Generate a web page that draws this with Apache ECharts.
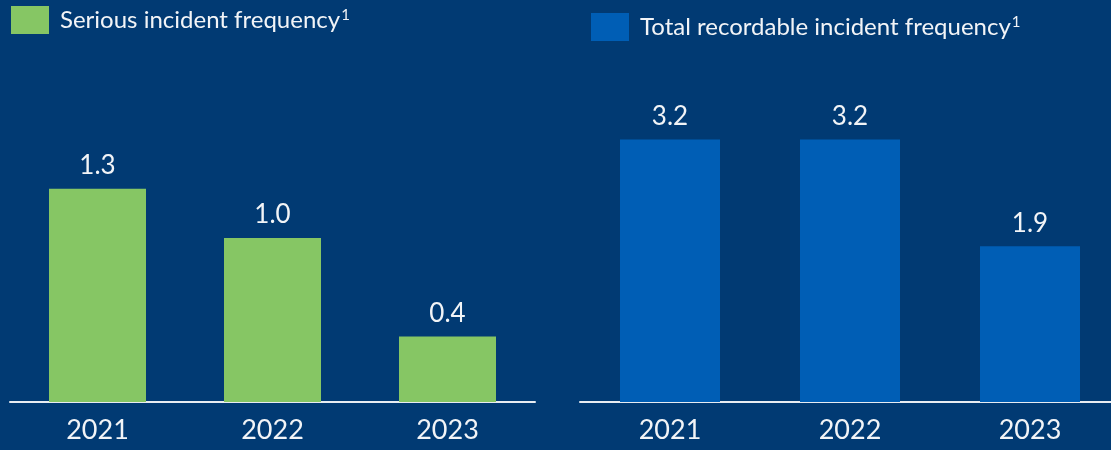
<!DOCTYPE html>
<html>
<head>
<meta charset="utf-8">
<script src="https://cdn.jsdelivr.net/npm/echarts@6/dist/echarts.min.js"></script>
<style>
html,body{margin:0;padding:0;background:#013a73;}
#c{width:1111px;height:450px;}
</style>
</head>
<body>
<div id="c"></div>
<script>
const categories = ['2021', '2022', '2023'];
const seriousValues = [1.3, 1.0, 0.4];
const totalValues = [3.2, 3.2, 1.9];
const seriousName = 'Serious incident frequency';
const totalName = 'Total recordable incident frequency';

const FONT = 'Lato, "Open Sans", sans-serif';
const TXT = '#f2f4f7';

const chart = echarts.init(document.getElementById('c'));
const legendRich = {
  a: { color: TXT, fontSize: 24, fontFamily: FONT, padding: [0, 0, 0, 6] },
  s: { color: TXT, fontSize: 15, fontFamily: FONT, verticalAlign: 'top', padding: [0, 0, 10, 1] }
};
function xAx(gi) {
  return {
    type: 'category', gridIndex: gi, data: categories,
    axisLine: { lineStyle: { color: '#e8ecf2', width: 2 } },
    axisTick: { show: false },
    axisLabel: { color: TXT, fontSize: 27, fontFamily: FONT, margin: 15 }
  };
}
function yAx(gi, max) {
  return {
    type: 'value', gridIndex: gi, min: 0, max: max, show: false,
    splitLine: { show: false }
  };
}
const labelCfg = { show: true, position: 'top', distance: 10, color: TXT, fontSize: 26, fontFamily: FONT, formatter: p => p.value.toFixed(1) };

chart.setOption({
  backgroundColor: '#013a73',
  animation: false,
  legend: [
    { data: [seriousName], left: 11, top: 6, padding: 0, itemWidth: 38, itemHeight: 28, icon: 'rect',
      formatter: n => '{a|' + n + '}{s|1}', textStyle: { rich: legendRich } },
    { data: [totalName], left: 591, top: 13, padding: 0, itemWidth: 38, itemHeight: 28, icon: 'rect',
      formatter: n => '{a|' + n + '}{s|1}', textStyle: { rich: legendRich } }
  ],
  grid: [
    { left: 10, width: 525, top: 74, height: 328, outerBoundsMode: 'none' },
    { left: 580, width: 540, top: 74, height: 328, outerBoundsMode: 'none' }
  ],
  xAxis: [xAx(0), xAx(1)],
  yAxis: [yAx(0, 2), yAx(1, 4)],
  series: [
    { name: seriousName, type: 'bar', xAxisIndex: 0, yAxisIndex: 0, data: seriousValues,
      barWidth: 97, itemStyle: { color: '#86c664' }, label: labelCfg },
    { name: totalName, type: 'bar', xAxisIndex: 1, yAxisIndex: 1, data: totalValues,
      barWidth: 100, itemStyle: { color: '#005eb5' }, label: labelCfg }
  ]
});
</script>
</body>
</html>
